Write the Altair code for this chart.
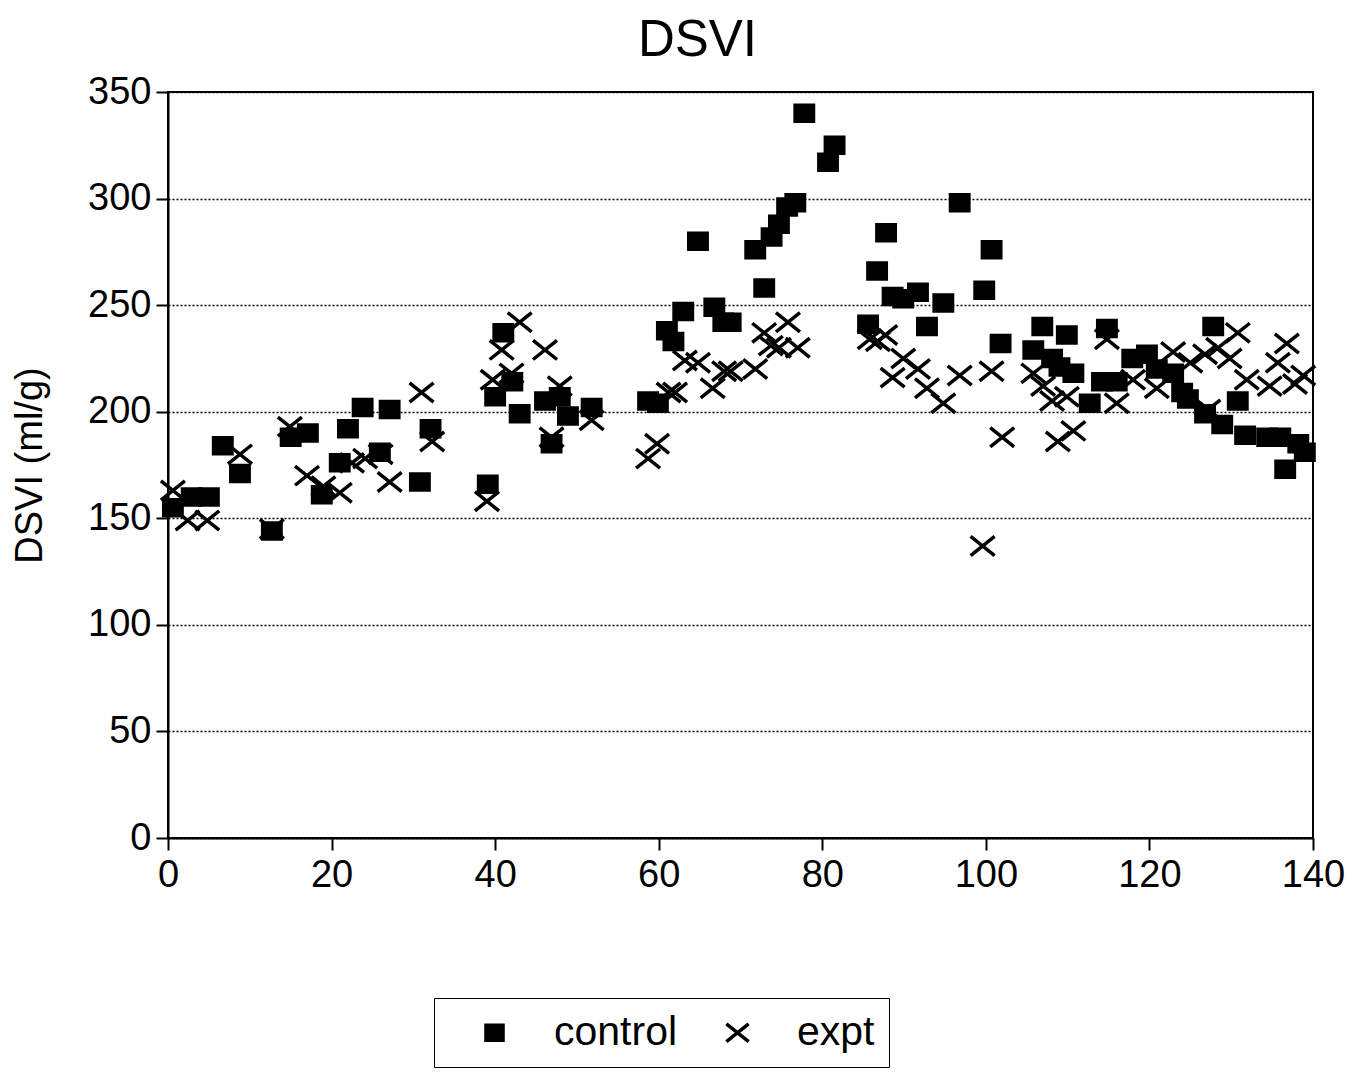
import altair as alt
import pandas as pd

control_x = [0.6, 2.9, 5.0, 6.7, 8.8, 12.7, 15.0, 17.1, 18.8, 21.0, 22.0, 23.8, 25.9, 27.1, 30.8,
             32.1, 39.1, 40.0, 41.0, 42.1, 43.0, 46.1, 46.9, 47.9, 48.9, 51.8, 58.7, 59.9, 61.0,
             61.8, 63.0, 64.8, 66.8, 67.9, 68.8, 71.8, 72.9, 73.8, 74.7, 75.7, 76.7, 77.8, 80.7,
             81.5, 85.6, 86.7, 87.8, 88.6, 89.9, 91.7, 92.8, 94.8, 96.8, 99.8, 100.7, 101.8, 105.8,
             106.9, 108.1, 109.0, 109.9, 110.7, 112.7, 114.2, 114.8, 116.0, 117.9, 119.7, 120.9,
             122.9, 124.0, 124.7, 126.8, 127.8, 128.9, 130.8, 131.7, 134.4, 136.0, 136.6, 138.2, 139.0]
control_y = [155, 160, 160, 184, 171, 144, 188, 190, 161, 176, 192, 202, 181, 201, 167,
             192, 166, 207, 237, 214, 199, 205, 185, 207, 198, 202, 205, 204, 238,
             233, 247, 280, 249, 242, 242, 276, 258, 282, 288, 296, 298, 340, 317,
             325, 241, 266, 284, 254, 253, 256, 240, 251, 298, 257, 276, 232, 229,
             240, 225, 221, 236, 218, 204, 214, 239, 214, 225, 227, 220,
             218, 209, 206, 199, 240, 194, 205, 189, 188, 188, 173, 185, 181]

expt_x = [0.6, 2.4, 4.8, 8.8, 12.7, 14.9, 17.0, 19.0, 21.0, 22.5, 24.1, 26.0, 27.1, 31.0, 32.3,
          39.0, 39.7, 40.8, 42.0, 43.0, 46.1, 46.9, 47.9, 51.8, 58.7, 59.8, 61.2, 62.0, 63.2,
          64.8, 66.6, 68.0, 68.8, 71.8, 72.9, 73.7, 74.7, 75.8, 77.0, 85.8, 86.8, 87.7, 88.6,
          89.9, 91.7, 92.8, 94.8, 96.8, 99.6, 100.7, 102.0, 105.8, 107.0, 108.1, 108.8, 109.9,
          110.7, 114.8, 116.0, 118.0, 120.9, 122.9, 125.0, 126.8, 127.2, 128.4, 129.8, 130.8,
          131.9, 134.7, 135.7, 136.8, 137.8, 138.8]
expt_y = [163, 149, 149, 180, 145, 193, 170, 165, 162, 176, 178, 180, 167, 209, 186,
          158, 215, 229, 218, 242, 229, 188, 212, 196, 178, 185, 209, 209, 224,
          223, 211, 219, 219, 220, 237, 231, 230, 242, 230, 234, 233, 236, 216,
          225, 220, 211, 204, 217, 137, 219, 188, 218, 212, 205, 186, 207,
          191, 234, 204, 215, 211, 228, 223, 227, 201, 230, 225, 237,
          215, 212, 223, 232, 213, 217]

series_names = ["control", "expt"]
y_ticks = [0, 50, 100, 150, 200, 250, 300, 350]
x_ticks = [0, 20, 40, 60, 80, 100, 120, 140]

df = pd.concat([
    pd.DataFrame({"day": control_x, "dsvi": control_y, "series": series_names[0]}),
    pd.DataFrame({"day": expt_x, "dsvi": expt_y, "series": series_names[1]}),
])

FONT = "Liberation Sans"
square_path = "M-1.15,-1L1.15,-1L1.15,1L-1.15,1Z"
cross_path = "M-1.5,-1.2L1.5,1.2M-1.5,1.2L1.5,-1.2"


def make_legend():
    return alt.Legend(title=None, orient="none", legendX=266, legendY=906,
                      direction="horizontal", columns=2, strokeColor="black",
                      padding=14, symbolOffset=26, labelOffset=39,
                      columnPadding=13, gridAlign="all",
                      symbolStrokeWidth=3.5, symbolSize=220,
                      labelExpr="datum.label == 'expt' ? 'expt\u2003\u2003' : datum.label",
                      labelFontSize=41, labelFont=FONT, labelColor="black")


chart = alt.Chart(df).mark_point(
    filled=True, strokeWidth=3.5, opacity=1, size=256
).encode(
    x=alt.X("day:Q", scale=alt.Scale(domain=[0, 140], nice=False, zero=True),
            axis=alt.Axis(values=x_ticks, title=None, grid=False, tickSize=12,
                          labelPadding=6, labelFlush=False)),
    y=alt.Y("dsvi:Q", scale=alt.Scale(domain=[0, 350], nice=False),
            axis=alt.Axis(values=y_ticks, title="DSVI (ml/g)", grid=True, tickSize=12,
                          labelPadding=5, titlePadding=38,
                          gridDash=[2, 2], gridColor="black", gridWidth=1.5, gridOpacity=1)),
    shape=alt.Shape("series:N",
                    scale=alt.Scale(domain=series_names, range=[square_path, cross_path]),
                    legend=make_legend()),
    fill=alt.Fill("series:N",
                  scale=alt.Scale(domain=series_names, range=["black", "black"]),
                  legend=make_legend()),
    stroke=alt.Stroke("series:N",
                      scale=alt.Scale(domain=series_names, range=["black", "black"]),
                      legend=make_legend()),
).properties(
    width=1145,
    height=746,
    background="white",
    title=alt.TitleParams("DSVI", fontSize=51, font=FONT, fontWeight="normal",
                          color="black", anchor="middle", dx=-43, offset=6),
    autosize=alt.AutoSizeParams(type="none"),
    padding={"left": 160, "top": 84, "right": 34, "bottom": 232},
).configure_view(
    stroke="black", strokeWidth=2
).configure_axis(
    domainColor="black", domainWidth=2, tickColor="black", tickWidth=2,
    labelFont=FONT, labelFontSize=38, labelColor="black",
    titleFont=FONT, titleFontSize=38, titleFontWeight="normal", titleColor="black",
)

chart.save("out.html", embed_options={"renderer": "svg", "actions": False})
